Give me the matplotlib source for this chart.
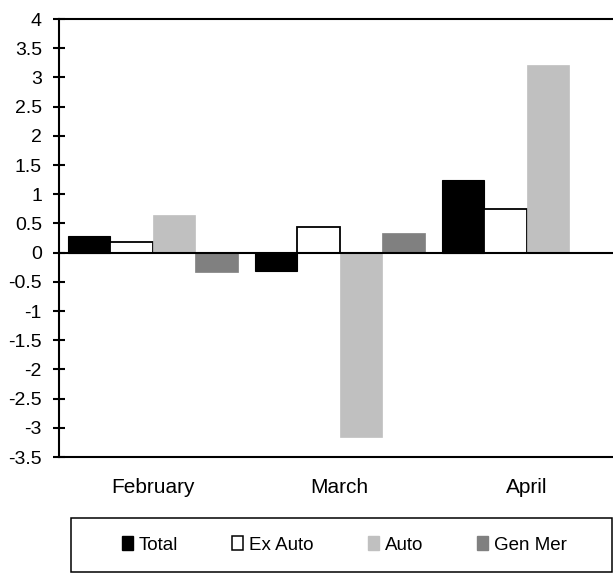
import matplotlib
matplotlib.use("Agg")
import matplotlib.pyplot as plt
import numpy as np
from matplotlib.patches import Patch, Rectangle

categories = ["February", "March", "April"]
series = ["Total", "Ex Auto", "Auto", "Gen Mer"]
total = [0.29, -0.31, 1.24]
ex_auto = [0.19, 0.44, 0.75]
auto = [0.65, -3.15, 3.21]
gen_mer = [-0.34, 0.33, np.nan]
yticks = [4, 3.5, 3, 2.5, 2, 1.5, 1, 0.5, 0, -0.5, -1, -1.5, -2, -2.5, -3, -3.5]

plt.rcParams['font.family'] = ['Liberation Sans', 'DejaVu Sans']

W, H = 613, 574
fig = plt.figure(figsize=(W / 100, H / 100), dpi=100)
ax = fig.add_axes([59 / W, 1 - 457 / H, 1 - 59 / W, (457 - 19) / H])

w = 0.227
x = np.arange(len(categories))
styles = [
    dict(color="black", edgecolor="black", linewidth=0.8),
    dict(color="white", edgecolor="black", linewidth=1.3),
    dict(color="#c0c0c0", edgecolor="#c0c0c0", linewidth=0.5),
    dict(color="#808080", edgecolor="#808080", linewidth=0.5),
]
data = [total, ex_auto, auto, gen_mer]
for i, (vals, st) in enumerate(zip(data, styles)):
    ax.bar(x + (i - 1.5) * w, vals, width=w, zorder=2, **st)

ax.axhline(0, color="black", lw=1.5, zorder=3)
ax.set_xlim(-0.5, 2.46)
ax.set_ylim(-3.5, 4)
ax.set_yticks(yticks)
ax.set_yticklabels([f"{t:g}" for t in yticks], fontsize=14)
ax.set_xticks(x)
ax.set_xticklabels(categories, fontsize=15)
ax.tick_params(axis="x", length=0, pad=15)
ax.tick_params(axis="y", direction="inout", length=8.5, width=1.5, pad=8)
ax.spines["right"].set_visible(False)
for s in ["left", "top", "bottom"]:
    ax.spines[s].set_linewidth(1.5)

# legend frame
fig.patches.append(Rectangle((70.6 / W, 1 - 572 / H), (611.7 - 70.6) / W, (572 - 518) / H,
                             transform=fig.transFigure, facecolor="none",
                             edgecolor="black", linewidth=1.1))

handles = [
    Patch(facecolor="black", edgecolor="black"),
    Patch(facecolor="white", edgecolor="black", linewidth=1.1),
    Patch(facecolor="#c0c0c0", edgecolor="#c0c0c0"),
    Patch(facecolor="#808080", edgecolor="#808080"),
]
leg = fig.legend(handles, series, loc="center left", bbox_to_anchor=(122 / W, 1 - 545 / H),
                 ncol=4, frameon=False, fontsize=13.5,
                 handlelength=0.57, handleheight=0.75, handletextpad=0.32,
                 columnspacing=2.9, borderpad=0, borderaxespad=0)
fig.savefig("out.png", dpi=100)
